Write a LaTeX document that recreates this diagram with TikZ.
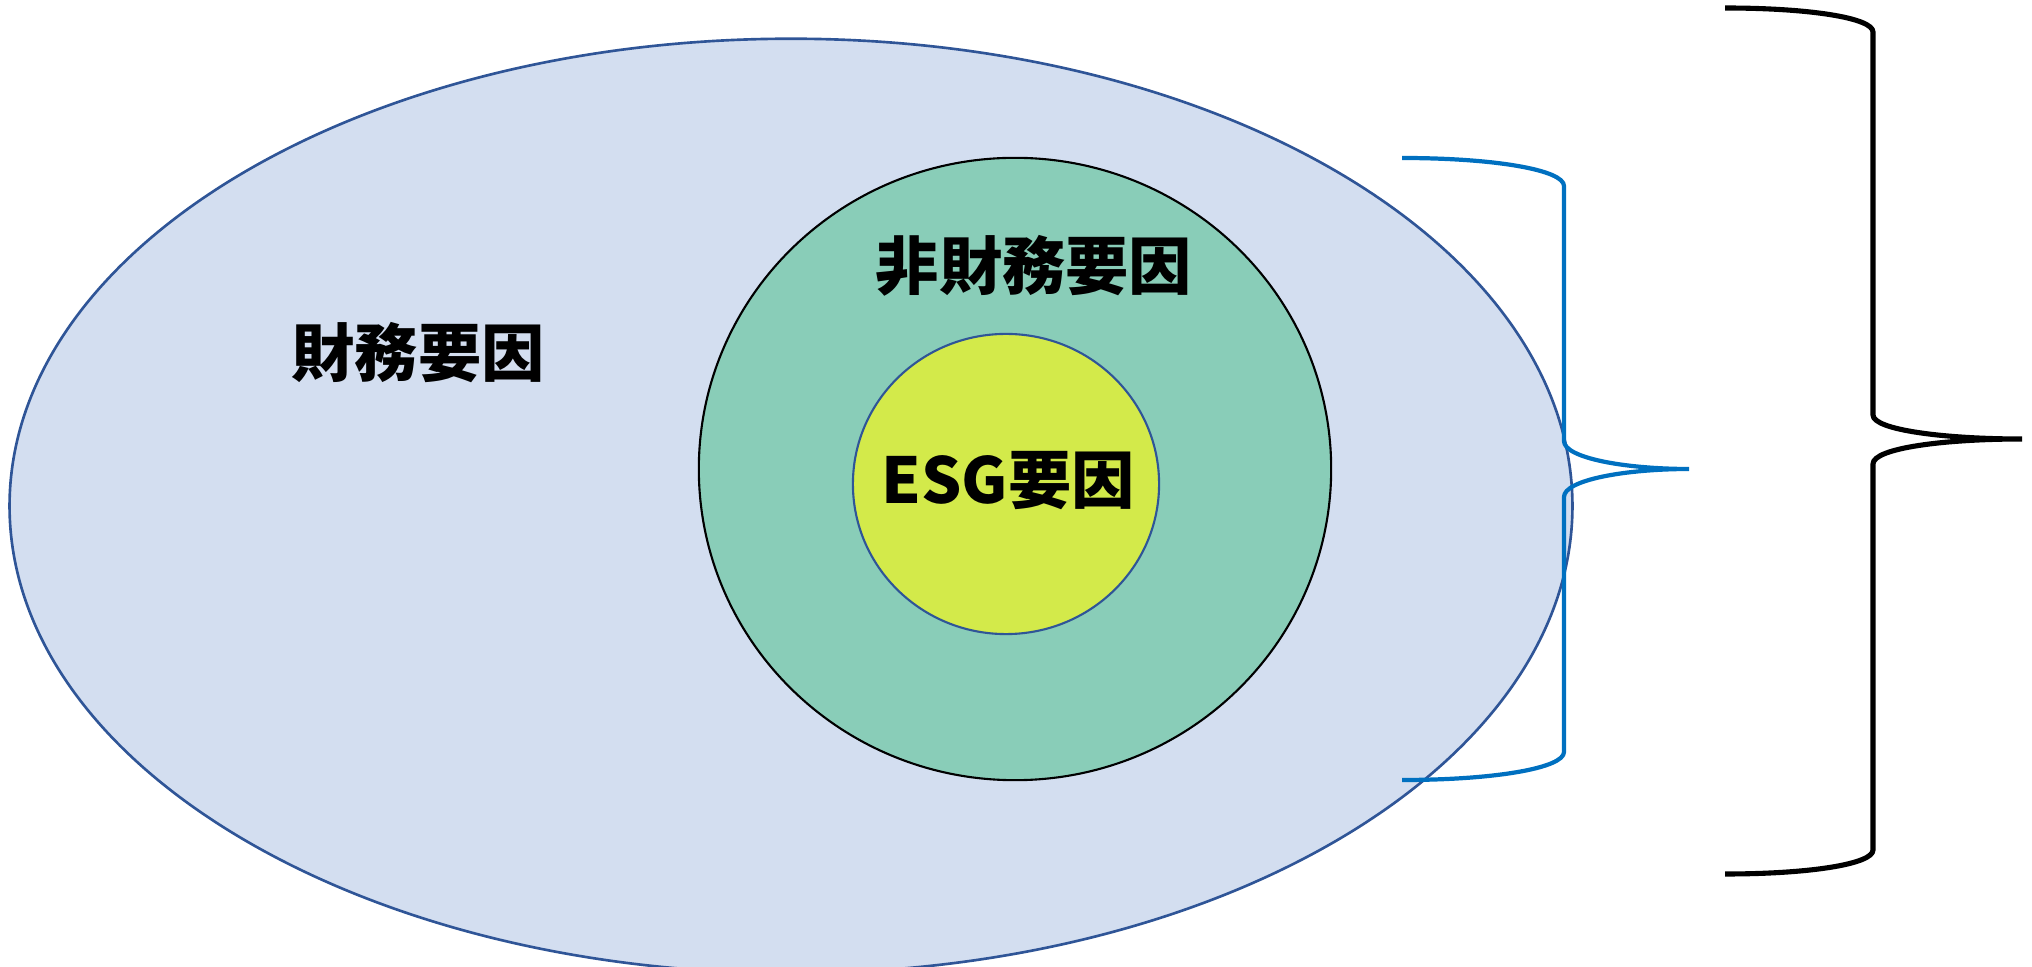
\documentclass[tikz,border=0pt]{standalone}
\usepackage{fontspec}
\newfontfamily\cjk{Noto Sans CJK JP}
\usetikzlibrary{shapes.geometric}
\definecolor{outerfill}{HTML}{D3DEF0}
\definecolor{outerline}{HTML}{2F5597}
\definecolor{midfill}{HTML}{89CDB8}
\definecolor{innerfill}{HTML}{D3EA4A}
\definecolor{bracketblue}{HTML}{0070C0}
\tikzset{
  region/.style={ellipse, inner sep=0pt},
  label/.style={font=\cjk\bfseries\fontsize{18pt}{20pt}\selectfont, inner sep=0pt, text=black},
  bluebrace/.style={draw=bracketblue, line width=1.2pt},
  blackbrace/.style={draw=black, line width=1.45pt}
}
\begin{document}
\begin{tikzpicture}[x=0.01cm, y=-0.01cm]
\useasboundingbox (0,0) rectangle (2032,967);
\node[region, draw=outerline, fill=outerfill, line width=0.75pt, minimum width=15.62cm, minimum height=9.34cm] (outer) at (791,506) {};
\node[region, draw=black, fill=midfill, line width=0.6pt, minimum width=6.32cm, minimum height=6.22cm] (mid) at (1015,469) {};
\node[region, draw=outerline, fill=innerfill, line width=0.6pt, minimum width=3.06cm, minimum height=3.00cm] (inner) at (1006,484) {};
\node[label] (t1) at (418,353) {財務要因};
\node[label] (t2) at (1034,266) {非財務要因};
\node[label] (t3) at (1008,481) {ESG要因};
% blue brace
\coordinate (bt) at (1402,158);
\coordinate (bm) at (1689,469);
\coordinate (bb) at (1402,780);
\draw[bluebrace] (bt) .. controls (1495,158) and (1564,170) .. (1564,186) -- (1564,441)
  .. controls (1564,458) and (1625,469) .. (bm)
  .. controls (1625,469) and (1564,480) .. (1564,497) -- (1564,752)
  .. controls (1564,768) and (1495,780) .. (bb);
% black brace
\coordinate (kt) at (1725,8);
\coordinate (km) at (2022,439);
\coordinate (kb) at (1725,874);
\draw[blackbrace] (kt) .. controls (1810,8) and (1873,18) .. (1873,32) -- (1873,415)
  .. controls (1873,430) and (1945,439) .. (km)
  .. controls (1945,439) and (1873,448) .. (1873,464) -- (1873,850)
  .. controls (1873,864) and (1810,874) .. (kb);
\end{tikzpicture}
\end{document}
